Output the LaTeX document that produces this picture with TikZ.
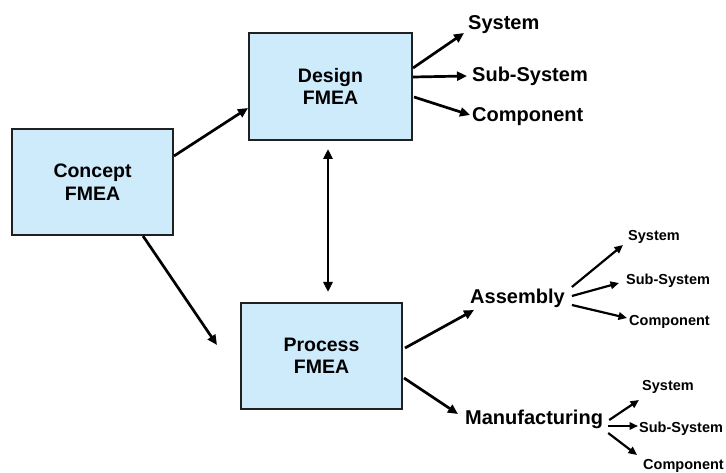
\documentclass[tikz,border=0pt]{standalone}
\usepackage{fontspec}
\setmainfont{Liberation Sans}
\usetikzlibrary{arrows.meta,calc}
\definecolor{boxfill}{HTML}{CDEBFB}
\definecolor{boxline}{HTML}{202020}
\tikzset{
  fmea/.style={draw=boxline, line width=2pt, fill=boxfill, align=center,
    font=\bfseries\fontsize{19.5}{22.5}\selectfont, inner sep=0pt},
  biglabel/.style={anchor=west, inner sep=0pt, font=\bfseries\fontsize{20}{22}\selectfont},
  smalllabel/.style={anchor=west, inner sep=0pt, font=\bfseries\fontsize{14.5}{16}\selectfont},
  mainarrow/.style={line width=2.7pt, -{Triangle[length=10pt,width=9pt]}},
  subarrow/.style={line width=2.2pt, -{Triangle[length=8.5pt,width=7.5pt]}}
}
\begin{document}
\begin{tikzpicture}[x=1pt,y=-1pt]
  \useasboundingbox[fill=white] (0,0) rectangle (726,473);

  % the three FMEA boxes
  \node[fmea, minimum width=161pt, minimum height=106pt] (concept) at (92.5,182) {Concept\\FMEA};
  \node[fmea, minimum width=163pt, minimum height=107pt] (design) at (330.5,86.5) {Design\\FMEA};
  \node[fmea, minimum width=161pt, minimum height=106pt] (process) at (321.5,356) {Process\\FMEA};

  % design outputs
  \node[biglabel] (d1) at (468,25) {System};
  \node[biglabel] (d2) at (472,76) {Sub-System};
  \node[biglabel] (d3) at (472,117) {Component};

  % process branches
  \node[biglabel] (asm) at (470,298) {Assembly};
  \node[biglabel] (mfg) at (465,419) {Manufacturing};

  % assembly outputs
  \node[smalllabel] (a1) at (628,237) {System};
  \node[smalllabel] (a2) at (626,281) {Sub-System};
  \node[smalllabel] (a3) at (629,322) {Component};

  % manufacturing outputs
  \node[smalllabel] (m1) at (642,387) {System};
  \node[smalllabel] (m2) at (639,429) {Sub-System};
  \node[smalllabel] (m3) at (643,466) {Component};

  % links between the boxes
  \draw[mainarrow] ($(concept.east)+(0,-26)$) -- ($(design.west)+(0,21.5)$);
  \coordinate (ptip) at ($(process.west)+(-23,-11)$);
  \draw[mainarrow] ($(concept.south)+(50.5,0)$) -- (ptip);
  \draw[mainarrow, {Triangle[length=10pt,width=9pt]}-{Triangle[length=10pt,width=9pt]}]
    ($(design.south)+(-2.5,8)$) -- ($(process.north)+(6.5,-10)$);

  % design to its outputs
  \draw[mainarrow] ($(design.east)+(0,-18.5)$) -- ($(d1.west)+(-4,8)$);
  \draw[mainarrow] ($(design.east)+(0,-9.5)$) -- ($(d2.west)+(-5,0)$);
  \draw[mainarrow] ($(design.east)+(1,10.5)$) -- ($(d3.west)+(-2,-2)$);

  % process to assembly and manufacturing
  \draw[mainarrow] ($(process.east)+(2,-8)$) -- ($(asm.west)+(4,12)$);
  \draw[mainarrow] ($(process.east)+(1,22)$) -- ($(mfg.west)+(-7,-5)$);

  % assembly to its outputs
  \draw[subarrow] ($(asm.east)+(7,-11)$) -- ($(a1.west)+(-5,8)$);
  \draw[subarrow] ($(asm.east)+(7,-2)$) -- ($(a2.west)+(-7,2)$);
  \draw[subarrow] ($(asm.east)+(7,7)$) -- ($(a3.west)+(-2,-4)$);

  % manufacturing to its outputs
  \draw[subarrow] ($(mfg.east)+(6,1)$) -- ($(m1.west)+(-3,13)$);
  \draw[subarrow] ($(mfg.east)+(5,7)$) -- ($(m2.west)+(-1,-3)$);
  \draw[subarrow] ($(mfg.east)+(5,14)$) -- ($(m3.west)+(-6,-11)$);
\end{tikzpicture}
\end{document}
